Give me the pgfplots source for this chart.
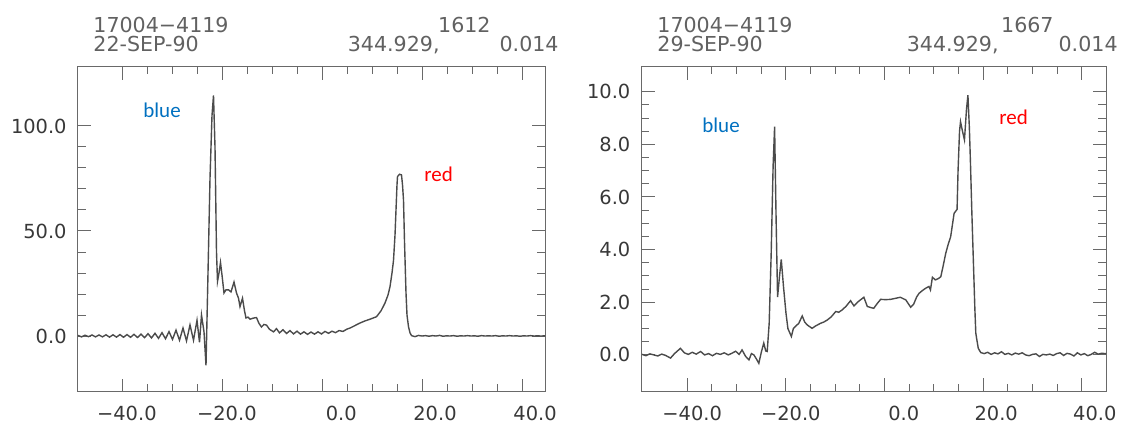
\documentclass[border=0pt]{standalone}
\usepackage{pgfplots}
\pgfplotsset{compat=1.18}
\usepackage{fontspec}
\setmainfont{DejaVu Sans}
\newfontfamily\carlito{Carlito}
\definecolor{annblue}{RGB}{0,112,192}
\definecolor{annred}{RGB}{255,0,0}
\definecolor{axgray}{RGB}{105,105,105}
\definecolor{linegray}{RGB}{75,75,75}
\pgfplotsset{
  specax/.style={
    scale only axis,
    anchor=south west,
    axis line style={axgray, line width=0.5pt},
    every tick/.style={axgray, line width=0.5pt},
    major tick length=6.5pt,
    minor tick length=3.8pt,
    tick align=inside,
    xtick={-40,-20,0,20,40},
    xticklabels={−40.0,−20.0,0.0,20.0,40.0},
    minor x tick num=3,
    tick label style={font=\fontsize{9.7}{11}\selectfont, text=black!78},
    xticklabel style={anchor=north east, inner sep=0pt, xshift=17.5pt, yshift=-7pt},
    yticklabel style={anchor=east, inner sep=0pt, xshift=-5.5pt},
  }
}
\begin{document}
\begin{tikzpicture}
\useasboundingbox (0,0) rectangle (561.5pt,211.5pt);
% ---------- left panel ----------
\begin{axis}[specax,
  at={(39pt,15.75pt)},
  width=233.5pt, height=162.4pt,
  xmin=-48.8, xmax=44.6, ymin=-26.4, ymax=128.2,
  ytick={0,50,100}, yticklabels={0.0,50.0,100.0},
  minor y tick num=4]
\addplot[linegray, line width=0.7pt] coordinates {
(-48.8,0.3) (-48.1,-0.4) (-47.4,0.4) (-46.7,-0.3) (-46.0,0.5) (-45.3,-0.4)
(-44.6,0.5) (-43.9,-0.4) (-43.2,0.6) (-42.5,-0.5) (-41.8,0.6) (-41.1,-0.5)
(-40.4,0.7) (-39.7,-0.6) (-39.0,0.7) (-38.3,-0.6) (-37.6,0.8) (-36.9,-0.7)
(-36.2,0.9) (-35.5,-0.8) (-34.8,1.1) (-34.1,-0.9) (-33.4,1.3) (-32.7,-1.1)
(-32.0,1.6) (-31.3,-1.3) (-30.6,2.1) (-29.9,-1.6) (-29.2,2.8) (-28.5,-2.0)
(-27.8,3.8) (-27.1,-2.3) (-26.4,5.3) (-25.7,-2.0) (-25.0,7.5) (-24.5,-3.0)
(-24.1,10.0) (-23.6,2.0) (-23.2,-14.0) (-22.8,30) (-22.4,75) (-22.0,105)
(-21.7,114.5) (-21.4,90) (-21.1,40) (-20.9,26) (-20.6,30) (-20.3,35)
(-20.0,29) (-19.6,20.5) (-19.2,22) (-18.7,22) (-18.2,21) (-17.6,25.7)
(-17.1,20.5) (-16.7,18) (-16.4,14) (-15.9,18) (-15.5,12) (-15.2,8.6)
(-14.8,9) (-14.4,8) (-13.8,8.5) (-13.1,8.8) (-12.6,6) (-12.1,4.3)
(-11.6,5.5) (-11.1,5.2) (-10.5,3.2) (-9.7,2.0) (-9.1,3.5) (-8.5,1.5)
(-7.8,3.0) (-7.1,1.2) (-6.4,2.6) (-5.7,1.0) (-5.0,2.3) (-4.3,0.9)
(-3.6,2.0) (-2.9,0.8) (-2.2,1.9) (-1.5,0.9) (-0.8,2.0) (-0.1,1.0)
(0.6,2.2) (1.3,1.3) (2.0,2.3) (2.7,1.6) (3.4,2.6) (4.2,2.2)
(5.0,3.3) (5.6,3.8) (6.6,5.0) (7.6,6.2) (8.6,7.2) (9.6,8.0)
(10.9,9.2) (11.8,12.0) (12.6,15.7) (13.2,19.5) (13.6,23.5) (14.0,30)
(14.3,36) (14.6,48) (14.8,60) (15.0,72) (15.1,75.9) (15.5,77)
(15.9,76.7) (16.1,72) (16.3,64.8) (16.5,45) (16.8,20.5) (17.0,10)
(17.3,4.4) (17.6,1.5) (17.9,0.2) (18.6,-0.3) (19.3,0.3) (20.0,0.0)
(20.7,0.2) (21.4,-0.1) (22.1,0.2) (22.8,0.0) (23.5,0.3) (24.2,-0.1)
(24.9,0.1) (25.6,0.0) (26.3,0.2) (27.0,-0.1) (27.7,0.1) (28.4,0.0)
(29.1,0.2) (29.8,0.0) (30.5,0.1) (31.2,-0.1) (31.9,0.2) (32.6,0.0)
(33.3,0.1) (34.0,0.0) (34.7,0.2) (35.4,-0.1) (36.1,0.1) (36.8,0.0)
(37.5,0.2) (38.2,0.0) (38.9,0.1) (39.6,-0.1) (40.3,0.1) (41.0,0.0)
(41.7,0.2) (42.4,0.0) (43.1,0.1) (43.8,0.0) (44.6,0.1)
};
\end{axis}
% ---------- right panel ----------
\begin{axis}[specax,
  at={(320.85pt,15.75pt)},
  width=232.15pt, height=162.4pt,
  xmin=-49.25, xmax=44.9, ymin=-1.39, ymax=10.95,
  ytick={0,2,4,6,8,10}, yticklabels={0.0,2.0,4.0,6.0,8.0,10.0},
  minor y tick num=3]
\addplot[linegray, line width=0.7pt] coordinates {
(-49.2,0.02) (-48.4,-0.03) (-47.6,0.04) (-46.8,0.0) (-46.0,-0.04) (-45.2,0.03)
(-44.4,-0.02) (-43.4,-0.12) (-42.6,0.05) (-41.4,0.25) (-40.6,0.08) (-39.8,0.02)
(-39.0,0.10) (-38.2,0.03) (-37.3,0.13) (-36.5,0.0) (-35.7,0.05) (-34.9,-0.03)
(-34.1,0.06) (-33.3,0.02) (-32.5,0.08) (-31.7,0.0) (-31.0,0.06) (-30.2,0.14)
(-29.5,0.02) (-28.9,0.19) (-28.2,-0.05) (-27.5,-0.19) (-27.0,0.05) (-26.5,0.0)
(-26.0,-0.15) (-25.5,-0.32) (-25.0,0.1) (-24.5,0.45) (-24.1,0.15) (-23.8,0.13)
(-23.4,1.2) (-23.0,3.8) (-22.6,7.2) (-22.3,8.67) (-22.0,5.2) (-21.7,2.2)
(-21.3,3.0) (-20.95,3.63) (-20.5,2.6) (-20.0,1.6) (-19.6,1.0) (-18.9,0.7)
(-18.5,1.0) (-18.1,1.08) (-17.4,1.2) (-16.7,1.48) (-16.2,1.25) (-15.7,1.14)
(-14.7,1.01) (-14.0,1.1) (-13.0,1.2) (-12.3,1.25) (-11.6,1.33) (-10.8,1.45)
(-9.9,1.65) (-9.3,1.62) (-8.6,1.71) (-7.8,1.85) (-6.9,2.06) (-6.2,1.86)
(-5.5,2.0) (-4.9,2.09) (-4.2,2.19) (-3.5,1.84) (-2.8,1.8) (-2.2,1.77)
(-1.5,1.95) (-0.8,2.11) (0.2,2.1) (1.2,2.11) (2.2,2.15) (3.2,2.19)
(4.3,2.09) (5.3,1.81) (5.9,1.93) (6.5,2.2) (7.0,2.34) (7.7,2.45)
(8.3,2.53) (9.0,2.6) (9.3,2.47) (9.7,2.95) (10.3,2.85) (10.9,2.9)
(11.4,2.97) (11.9,3.4) (12.4,3.86) (12.9,4.2) (13.4,4.49) (13.8,5.0)
(14.1,5.38) (14.7,5.53) (14.9,7.0) (15.2,8.5) (15.4,8.86) (15.8,8.5)
(16.2,8.17) (16.6,9.3) (16.9,9.87) (17.2,8.6) (17.4,7.4) (17.7,5.4)
(18.0,3.6) (18.3,1.8) (18.5,0.82) (19.0,0.25) (19.5,0.09) (20.2,0.05)
(20.9,0.1) (21.6,0.02) (22.3,0.08) (23.0,0.04) (23.7,0.12) (24.4,0.02)
(25.1,0.06) (25.8,0.0) (26.5,0.07) (27.2,0.03) (27.9,0.08) (28.6,0.0)
(29.3,-0.03) (30.0,0.02) (30.7,0.04) (31.4,-0.06) (32.1,0.02) (32.8,0.0)
(33.5,0.03) (34.2,-0.02) (34.9,0.05) (35.6,0.08) (36.3,-0.02) (37.0,0.06)
(37.7,0.03) (38.4,-0.04) (39.1,0.08) (39.8,0.0) (40.5,0.05) (41.2,-0.03)
(41.9,0.02) (42.6,0.1) (43.3,0.03) (44.0,0.06) (44.9,0.05)
};
\end{axis}
% ---------- headers ----------
\begin{scope}[every node/.style={inner sep=0pt, text=black!62, font=\fontsize{10.3}{12}\selectfont}]
\node[anchor=base west] at (46.5pt,195.2pt) {17004−4119};
\node[anchor=base west] at (46.5pt,185.6pt) {22-SEP-90};
\node[anchor=base east] at (245.5pt,195.2pt) {1612};
\node[anchor=base east] at (220pt,185.6pt) {344.929,};
\node[anchor=base east] at (279.5pt,185.6pt) {0.014};
\node[anchor=base west] at (328.5pt,195.2pt) {17004−4119};
\node[anchor=base west] at (328.5pt,185.6pt) {29-SEP-90};
\node[anchor=base east] at (527pt,195.2pt) {1667};
\node[anchor=base east] at (499.5pt,185.6pt) {344.929,};
\node[anchor=base east] at (559pt,185.6pt) {0.014};
\end{scope}
% ---------- annotations ----------
\begin{scope}[every node/.style={anchor=base west, inner sep=0pt, font=\carlito\fontsize{10.5}{12}\selectfont}]
\node[text=annblue] at (71.5pt,152.5pt) {blue};
\node[text=annred] at (212pt,120.5pt) {red};
\node[text=annblue] at (351pt,145pt) {blue};
\node[text=annred] at (499.5pt,149pt) {red};
\end{scope}
\end{tikzpicture}
\end{document}
